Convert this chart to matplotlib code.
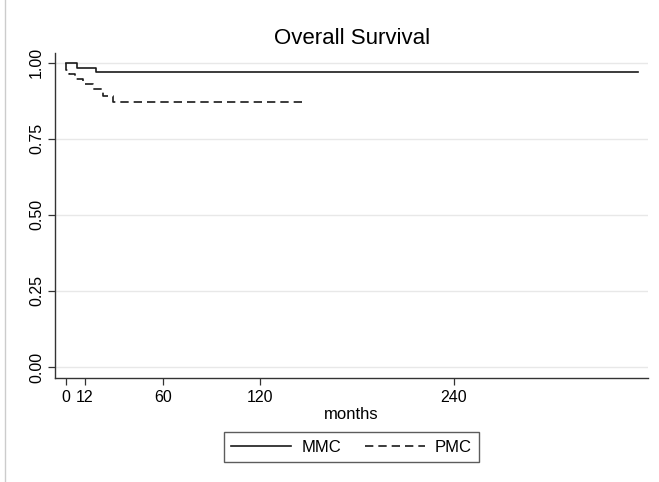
import matplotlib
matplotlib.use('Agg')
import matplotlib.pyplot as plt
from matplotlib.lines import Line2D

plt.rcParams['font.family'] = ['Liberation Sans', 'DejaVu Sans']

# Kaplan-Meier step data (months, survival)
mmc_t = [0, 7, 19, 354]
mmc_s = [1.0, 0.984, 0.971, 0.971]
pmc_t = [0, 0.5, 2, 6, 11, 17, 23, 29, 146]
pmc_s = [1.0, 0.975, 0.962, 0.947, 0.930, 0.913, 0.892, 0.872, 0.872]

xticks = [0, 12, 60, 120, 240]
yticks = [0.0, 0.25, 0.5, 0.75, 1.0]
ylabels = ['0.00', '0.25', '0.50', '0.75', '1.00']

fig = plt.figure(figsize=(6.59, 4.82), dpi=100)
ax = fig.add_axes([0.0839, 0.2164, 0.8994, 0.6743])

for y in yticks:
    ax.axhline(y, color='#e8e8e8', lw=1.0, zorder=0)

ax.step(mmc_t, mmc_s, where='post', color='#1a1a1a', lw=1.2, label='MMC')
ax.step(pmc_t, pmc_s, where='post', color='#1a1a1a', lw=1.2,
        linestyle=(0, (5, 3)), label='PMC')

ax.set_xlim(-6.4, 360)
ax.set_ylim(-0.035, 1.033)
ax.set_xticks(xticks)
ax.set_yticks(yticks)
ax.set_yticklabels(ylabels, rotation=90, va='center')
ax.tick_params(axis='both', labelsize=11.5, length=5, width=0.9, color='#333333')
ax.tick_params(axis='x', pad=4)
ax.tick_params(axis='y', pad=3)

for s in ['top', 'right']:
    ax.spines[s].set_visible(False)
for s in ['left', 'bottom']:
    ax.spines[s].set_color('#333333')
    ax.spines[s].set_linewidth(1.0)

ax.set_xlabel('months', fontsize=12, labelpad=1)
ax.set_title('Overall Survival', fontsize=16, pad=6)

handles = [Line2D([], [], color='#1a1a1a', lw=1.2),
           Line2D([], [], color='#1a1a1a', lw=1.2, linestyle=(0, (5, 3)))]
leg = fig.legend(handles, ['MMC', 'PMC'], loc='center',
                 bbox_to_anchor=(351.5 / 659, 1 - 447 / 482), ncol=2,
                 fontsize=12, frameon=True, fancybox=False, edgecolor='#333333',
                 handlelength=3.6, columnspacing=1.4, handletextpad=0.6,
                 borderpad=0.45, borderaxespad=0.3)
leg.get_frame().set_linewidth(1.0)

fig.add_artist(Line2D([5 / 659, 5 / 659], [0, 1], color='#cccccc', lw=1.0,
                      transform=fig.transFigure))

fig.savefig('out.png', dpi=100, facecolor='white')
